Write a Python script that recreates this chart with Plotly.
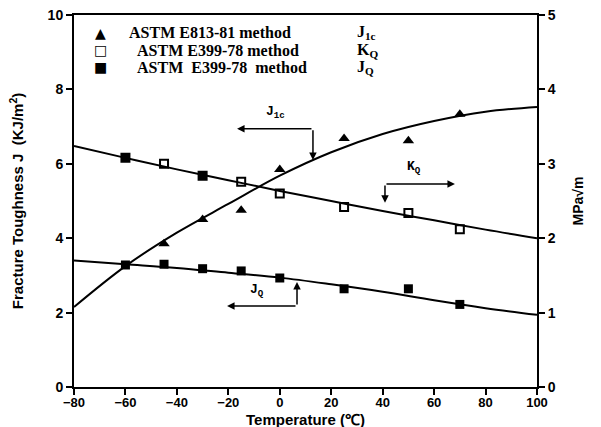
import plotly.graph_objects as go

# ---- data ----
temp_ticks = [-80, -60, -40, -20, 0, 20, 40, 60, 80, 100]

# J1c (ASTM E813-81) points, kJ/m^2
j1c_x = [-45, -30, -15, 0, 25, 50, 70]
j1c_y = [3.85, 4.5, 4.75, 5.85, 6.68, 6.62, 7.33]
# J1c fitted curve
j1c_fit_x = [-80, -60, -40, -20, 0, 20, 40, 60, 80, 100]
j1c_fit_y = [2.15, 3.25, 4.15, 4.92, 5.68, 6.31, 6.80, 7.15, 7.40, 7.53]

# KQ (ASTM E399-78) points, MPa*sqrt(m)
kq_x = [-60, -45, -30, -15, 0, 25, 50, 70]
kq_y = [3.08, 3.0, 2.84, 2.76, 2.6, 2.42, 2.34, 2.12]
kq_fit_x = [-80, -60, -40, -20, 0, 20, 40, 60, 80, 100]
kq_fit_y = [3.24, 3.08, 2.925, 2.78, 2.635, 2.50, 2.365, 2.24, 2.115, 2.00]

# JQ (ASTM E399-78) points, kJ/m^2
jq_x = [-60, -45, -30, -15, 0, 25, 50, 70]
jq_y = [3.28, 3.3, 3.18, 3.12, 2.93, 2.64, 2.64, 2.22]
jq_fit_x = [-80, -60, -40, -20, 0, 20, 40, 60, 80, 100]
jq_fit_y = [3.40, 3.30, 3.20, 3.07, 2.94, 2.76, 2.56, 2.33, 2.12, 1.94]

left_ticks = [0, 2, 4, 6, 8, 10]
right_ticks = [0, 1, 2, 3, 4, 5]

BLACK = "black"
SANS = "Liberation Sans, Arial, sans-serif"
tick_font = dict(family=SANS, size=14, color=BLACK, weight="bold")
serif = dict(family="Liberation Serif, Times New Roman, serif", size=16, color=BLACK, weight="bold")
mono = dict(family="Liberation Mono, Courier New, monospace", size=13, color=BLACK, weight="bold")

fig = go.Figure()

# fitted lines
fig.add_trace(go.Scatter(x=j1c_fit_x, y=j1c_fit_y, mode="lines", line=dict(color=BLACK, width=2, shape="spline"),
                         showlegend=False, hoverinfo="skip"))
fig.add_trace(go.Scatter(x=jq_fit_x, y=jq_fit_y, mode="lines", line=dict(color=BLACK, width=2, shape="spline"),
                         showlegend=False, hoverinfo="skip"))
fig.add_trace(go.Scatter(x=kq_fit_x, y=kq_fit_y, mode="lines", line=dict(color=BLACK, width=2, shape="spline"),
                         yaxis="y2", showlegend=False, hoverinfo="skip"))

# points
fig.add_trace(go.Scatter(x=j1c_x, y=j1c_y, mode="markers", name="J1c",
                         marker=dict(symbol="triangle-up", size=10, color=BLACK), showlegend=False))
kq_symbols = ["square", "square-open", "square", "square-open", "square-open", "square-open", "square-open", "square-open"]
fig.add_trace(go.Scatter(x=kq_x, y=kq_y, mode="markers", name="KQ", yaxis="y2",
                         marker=dict(symbol=kq_symbols, size=8, color=BLACK, line=dict(color=BLACK, width=2)),
                         showlegend=False))
fig.add_trace(go.Scatter(x=jq_x, y=jq_y, mode="markers", name="JQ",
                         marker=dict(symbol="square", size=9, color=BLACK), showlegend=False))

annotations = []
# legend block (paper coords); px/py are page pixels
def pap(px, py):
    return (px - 74) / (537 - 74), (387 - py) / (387 - 15)

legend_rows = [
    ("\u25B2", "ASTM E813-81 method", "J<sub>1c</sub>", 33, 127),
    ("\u25A1", "ASTM E399-78 method", "K<sub>Q</sub>", 50, 135),
    ("\u25A0", "ASTM  E399-78  method", "J<sub>Q</sub>", 67, 135),
]
for sym, txt, lab, py, tx in legend_rows:
    x0, y0 = pap(100, py)
    annotations.append(dict(x=x0, y=y0, xref="paper", yref="paper", text=sym, showarrow=False,
                            font=dict(family="DejaVu Sans", size=14, color=BLACK), xanchor="center", yanchor="middle"))
    x1, _ = pap(tx, py)
    annotations.append(dict(x=x1, y=y0, xref="paper", yref="paper", text=txt, showarrow=False,
                            font=serif, xanchor="left", yanchor="middle"))
    x2, _ = pap(355, py)
    annotations.append(dict(x=x2, y=y0, xref="paper", yref="paper", text=lab, showarrow=False,
                            font=serif, xanchor="left", yanchor="middle"))

# x-axis title placed below the tick labels
tx_, ty_ = pap(305, 419)
annotations.append(dict(x=tx_, y=ty_, xref="paper", yref="paper", text="Temperature (\u2103)",
                        showarrow=False, xanchor="center", yanchor="middle",
                        font=dict(family=SANS, size=15, color=BLACK, weight="bold")))

# callouts with arrows (data coords)
def arrow(x, y, ax, ay):
    annotations.append(dict(x=x, y=y, ax=ax, ay=ay, xref="x", yref="y", axref="x", ayref="y",
                            text="", showarrow=True, arrowhead=2, arrowsize=1, arrowwidth=1.5,
                            arrowcolor=BLACK, standoff=0, startstandoff=0))

# J1c callout
arrow(-16.6, 6.94, 12.9, 6.94)
arrow(12.9, 6.10, 12.9, 6.94)
annotations.append(dict(x=-1.5, y=7.39, xref="x", yref="y", text="J<sub>1c</sub>", showarrow=False, font=mono))
# KQ callout
arrow(68.1, 5.46, 40.9, 5.46)
arrow(40.9, 4.95, 40.9, 5.46)
annotations.append(dict(x=52.2, y=5.89, xref="x", yref="y", text="K<sub>Q</sub>", showarrow=False, font=mono))
# JQ callout
arrow(-20.5, 2.18, 6.7, 2.18)
arrow(6.7, 2.82, 6.7, 2.18)
annotations.append(dict(x=-8.8, y=2.6, xref="x", yref="y", text="J<sub>Q</sub>", showarrow=False, font=mono))

axis_common = dict(showgrid=False, zeroline=False, showline=True, linecolor=BLACK, linewidth=2,
                   ticks="outside", ticklen=6, tickwidth=2, tickcolor=BLACK,
                   automargin=False)

fig.update_layout(
    width=601, height=427,
    margin=dict(l=74, r=64, t=15, b=40, pad=0, autoexpand=False),
    paper_bgcolor="white", plot_bgcolor="white",
    showlegend=False,
    xaxis=dict(range=[-80, 100], tickvals=temp_ticks, mirror=True, ticklabelstandoff=-4,
               tickfont=dict(family=SANS, size=13, color=BLACK, weight="bold"),
               **axis_common),
    yaxis=dict(range=[0, 10], tickvals=left_ticks, tickfont=tick_font,
               title=dict(text="Fracture Toughness J  (KJ/m<sup>2</sup>)", standoff=20,
                          font=dict(family=SANS, size=15, color=BLACK, weight="bold")),
               **axis_common),
    yaxis2=dict(range=[0, 5], tickvals=right_ticks, overlaying="y", side="right", tickfont=tick_font,
                title=dict(text="MPa\u221Am", standoff=18,
                           font=dict(family=SANS, size=14, color=BLACK, weight="bold")),
                **axis_common),
    annotations=annotations,
)

fig.write_html("out.html", config={"displayModeBar": False},
               post_script="document.body.style.margin='0px';document.body.style.overflow='hidden';")
